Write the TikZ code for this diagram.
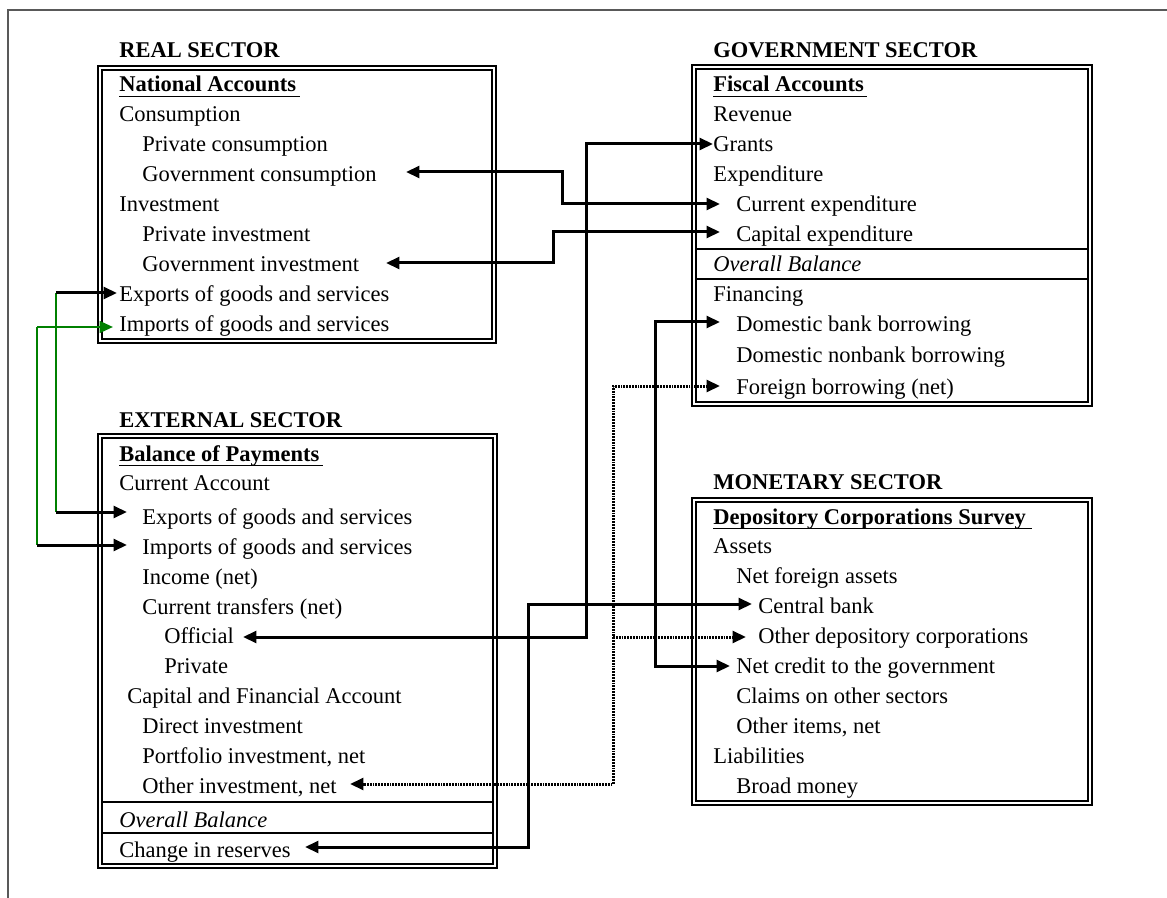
\documentclass[tikz,border=0pt]{standalone}
\usepackage{fontspec}
\setmainfont{Liberation Serif}
\usetikzlibrary{arrows.meta}
\definecolor{lnkgreen}{RGB}{0,128,0}
\begin{document}
\begin{tikzpicture}[x=0.6pt,y=-0.6pt,
  txt/.style={anchor=base west,inner sep=0pt,font=\fontsize{13.5}{16}\selectfont},
  ttl/.style={anchor=base west,inner sep=0pt,font=\fontsize{13.5}{16}\selectfont\bfseries},
  itl/.style={anchor=base west,inner sep=0pt,font=\fontsize{13.5}{16}\selectfont\itshape},
  boxline/.style={line width=1pt},
  divline/.style={line width=1.3pt},
  uline/.style={line width=1pt},
  tip/.tip={Triangle[length=8pt,width=7pt]},
  conn/.style={line width=1.8pt,tip-tip},
  conn1/.style={line width=1.8pt,-tip},
  dotc/.style={line width=1.8pt,dash pattern=on 1.1pt off 0.6pt},
  gline/.style={line width=1.1pt,draw=lnkgreen},
]
\useasboundingbox (0,0) rectangle (1167,898);
% outer frame
\draw[gray!70!black,line width=0.8pt] (8,898) -- (8,10) -- (1167,10);

% ---------- REAL SECTOR ----------
\node[ttl] (tReal) at (119,58) {REAL SECTOR};
\draw[boxline] (98,66) rectangle (496,343);
\draw[boxline] (102,70) rectangle (492,339);
\node[ttl] (r0) at (119,92) {National Accounts};
\draw[uline] (119,96.5) -- (300,96.5);
\node[txt] (r1) at (119,122) {Consumption};
\node[txt] (r2) at (142,152) {Private consumption};
\node[txt] (r3) at (142,182) {Government consumption};
\node[txt] (r4) at (119,212) {Investment};
\node[txt] (r5) at (142,242) {Private investment};
\node[txt] (r6) at (142,272) {Government investment};
\node[txt] (r7) at (119,302) {Exports of goods and services};
\node[txt] (r8) at (119,332) {Imports of goods and services};

% ---------- GOVERNMENT SECTOR ----------
\node[ttl] (tGov) at (713,58) {GOVERNMENT SECTOR};
\draw[boxline] (692,65) rectangle (1092,406);
\draw[boxline] (696,69) rectangle (1088,402);
\draw[divline] (696,249) -- (1088,249);
\draw[divline] (696,279) -- (1088,279);
\node[ttl] (g0) at (713,92) {Fiscal Accounts};
\draw[uline] (713,96.5) -- (867,96.5);
\node[txt] (g1) at (713,122) {Revenue};
\node[txt] (g2) at (713,152) {Grants};
\node[txt] (g3) at (713,182) {Expenditure};
\node[txt] (g4) at (736,212) {Current expenditure};
\node[txt] (g5) at (736,242) {Capital expenditure};
\node[itl] (g6) at (713,272) {Overall Balance};
\node[txt] (g7) at (713,302) {Financing};
\node[txt] (g8) at (736,332) {Domestic bank borrowing};
\node[txt] (g9) at (736,363) {Domestic nonbank borrowing};
\node[txt] (g10) at (736,394) {Foreign borrowing (net)};

% ---------- EXTERNAL SECTOR ----------
\node[ttl] (tExt) at (119,427) {EXTERNAL SECTOR};
\draw[boxline] (98,434) rectangle (497,868);
\draw[boxline] (102,438) rectangle (493,864);
\draw[divline] (102,802) -- (493,802);
\draw[divline] (102,833) -- (493,833);
\node[ttl] (e0) at (119,461) {Balance of Payments};
\draw[uline] (119,465.5) -- (323,465.5);
\node[txt] (e1) at (119,490) {Current Account};
\node[txt] (e2) at (142,524) {Exports of goods and services};
\node[txt] (e3) at (142,554) {Imports of goods and services};
\node[txt] (e4) at (142,584) {Income (net)};
\node[txt] (e5) at (142,614) {Current transfers (net)};
\node[txt] (e6) at (164,643) {Official};
\node[txt] (e7) at (164,673) {Private};
\node[txt] (e8) at (127,703) {Capital and Financial Account};
\node[txt] (e9) at (142,733) {Direct investment};
\node[txt] (e10) at (142,763) {Portfolio investment, net};
\node[txt] (e11) at (142,793) {Other investment, net};
\node[itl] (e12) at (119,827) {Overall Balance};
\node[txt] (e13) at (119,857) {Change in reserves};

% ---------- MONETARY SECTOR ----------
\node[ttl] (tMon) at (713,489) {MONETARY SECTOR};
\draw[boxline] (692,498) rectangle (1092,805);
\draw[boxline] (696,502) rectangle (1088,801);
\node[ttl] (m0) at (713,524) {Depository Corporations Survey};
\draw[uline] (713,528.5) -- (1032,528.5);
\node[txt] (m1) at (713,553) {Assets};
\node[txt] (m2) at (736,583) {Net foreign assets};
\node[txt] (m3) at (758,613) {Central bank};
\node[txt] (m4) at (758,643) {Other depository corporations};
\node[txt] (m5) at (736,673) {Net credit to the government};
\node[txt] (m6) at (736,703) {Claims on other sectors};
\node[txt] (m7) at (736,733) {Other items, net};
\node[txt] (m8) at (713,763) {Liabilities};
\node[txt] (m9) at (736,793) {Broad money};

% ---------- connector end points ----------
\coordinate (gcT) at (406,172);
\coordinate (ceT) at (720,204);
\coordinate (giT) at (386,263);
\coordinate (cxT) at (720,232);
\coordinate (grT) at (713,144);
\coordinate (ofT) at (243,637);
\coordinate (dbT) at (720,322);
\coordinate (ncT) at (730,666);
\coordinate (fbT) at (720,386);
\coordinate (oiT) at (350,784);
\coordinate (odT) at (746,637);
\coordinate (crT) at (305,847);
\coordinate (cbT) at (752,604);
\coordinate (rxT) at (117,293);
\coordinate (rmT) at (113,327);
\coordinate (exT) at (127,512);
\coordinate (emT) at (127,545);
\coordinate (xa) at (56,293);
\coordinate (xb) at (56,512);
\coordinate (ia) at (37,327);
\coordinate (ib) at (37,545);
\coordinate (dj) at (613,637);

% ---------- connectors ----------
\draw[conn] (gcT) -- (562,172) -- (562,204) -- (ceT);
\draw[conn] (giT) -- (553,263) -- (553,232) -- (cxT);
\draw[conn] (ofT) -- (586,637) -- (586,144) -- (grT);
\draw[conn] (dbT) -- (655,322) -- (655,666) -- (ncT);
\draw[conn] (crT) -- (528,847) -- (528,604) -- (cbT);
\draw[dotc,tip-tip] (fbT) -- (613,386) -- (613,784) -- (oiT);
\draw[dotc,-tip] (dj) -- (odT);

% exports / imports links
\draw[gline] (xa) -- (xb);
\draw[gline] (ia) -- (ib);
\draw[conn1] (xa) -- (rxT);
\draw[conn1] (xb) -- (exT);
\draw[conn1] (ib) -- (emT);
\draw[gline,line width=1.4pt,-tip,lnkgreen] (ia) -- (rmT);
\end{tikzpicture}
\end{document}
